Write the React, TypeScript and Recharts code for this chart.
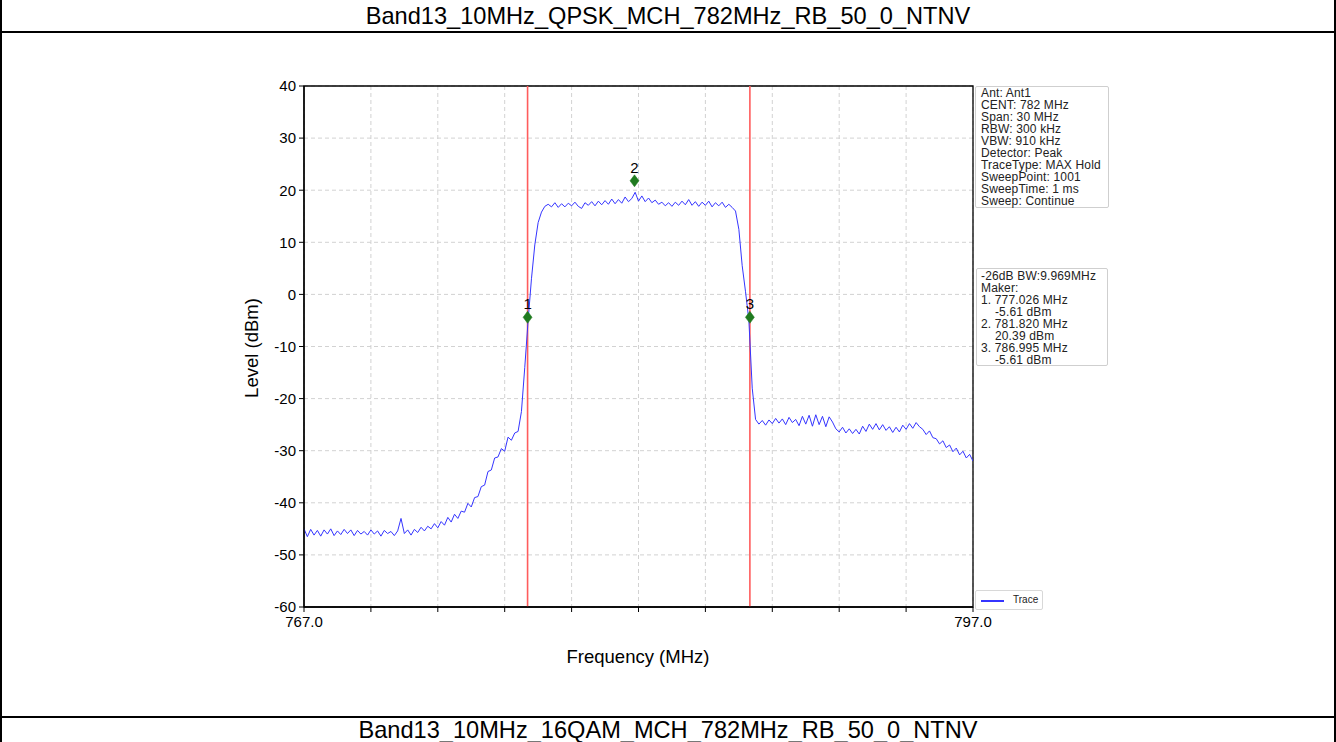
import React from 'react';
import {
  ComposedChart,
  Line,
  XAxis,
  YAxis,
  CartesianGrid,
  ReferenceLine,
  ReferenceDot,
  ReferenceArea,
} from 'recharts';

// ---- data ----
const TITLE_TOP = 'Band13_10MHz_QPSK_MCH_782MHz_RB_50_0_NTNV';
const TITLE_BOTTOM = 'Band13_10MHz_16QAM_MCH_782MHz_RB_50_0_NTNV';

const FREQ_START = 767.0;
const FREQ_STEP = 0.15;

// trace level (dBm), one value per sweep step of 0.15 MHz from 767.0 to 797.0
const traceLevels: number[] = [
  -45.0, -46.5, -45.1, -46.2, -45.3, -46.4, -45.2, -46.0, -45.0, -46.3,
  -45.4, -46.1, -45.1, -45.9, -45.2, -46.3, -45.3, -46.0, -45.5, -46.2,
  -45.2, -46.0, -45.4, -46.4, -45.3, -45.9, -45.5, -46.3, -45.4, -43.0,
  -45.9, -45.2, -46.2, -45.1, -45.7, -44.7, -45.4, -44.5, -45.0, -44.0,
  -44.8, -43.6, -44.3, -42.8, -43.7, -42.2, -43.0, -41.6, -41.8, -40.1,
  -40.8, -39.0, -38.8, -36.9, -36.6, -34.0, -33.7, -31.4, -31.2, -29.6,
  -30.1, -27.4, -28.0, -26.6, -26.3, -22.5, -14.0, -5.0, 3.0, 9.5,
  13.8, 15.8, 16.9, 17.3, 16.8, 17.6, 16.7, 17.4, 16.8, 17.5,
  17.0, 17.7, 16.9, 16.5, 17.6, 17.1, 17.8, 17.0, 17.9, 17.2,
  18.0, 17.3, 18.3, 17.4, 18.2, 17.5, 18.7, 17.8, 18.4, 19.6,
  17.9, 18.9, 17.8, 18.5, 17.6, 18.1, 17.3, 17.7, 17.0, 17.6,
  16.9, 17.7, 17.1, 17.9, 17.2, 18.2, 17.1, 17.8, 16.9, 17.7,
  17.1, 17.9, 16.8, 17.6, 17.0, 17.7, 16.7, 17.3, 16.7, 16.0,
  12.5, 5.5, 0.5, -5.0, -18.0, -24.0, -24.9, -24.2, -25.1, -24.1,
  -24.8, -23.8, -24.7, -23.9, -25.0, -23.6, -24.6, -24.0, -25.2, -23.4,
  -24.9, -23.2, -25.3, -23.1, -25.0, -23.4, -25.4, -23.5, -24.5, -25.8,
  -26.4, -25.5, -26.6, -25.8, -26.7, -25.9, -26.8, -25.3, -26.3, -24.9,
  -25.9, -24.8, -26.0, -25.0, -26.1, -25.4, -26.5, -25.5, -26.4, -25.1,
  -25.9, -24.8, -25.7, -24.6, -25.4, -25.9, -26.9, -26.2, -27.5, -27.7,
  -28.7, -28.1, -29.4, -28.9, -30.2, -29.5, -30.8, -30.1, -31.4, -30.7,
  -32.0,
];

const markerNames = ['1', '2', '3'];
const markerFreqs = [777.026, 781.82, 786.995];
const markerLevels = [-4.4, 21.8, -4.4];

const xTicks = [767, 770, 773, 776, 779, 782, 785, 788, 791, 794, 797];
const xTickLabels: Record<number, string> = { 767: '767.0', 797: '797.0' };
const yTicks = [-60, -50, -40, -30, -20, -10, 0, 10, 20, 30, 40];

const infoLines = [
  'Ant: Ant1',
  'CENT: 782 MHz',
  'Span: 30 MHz',
  'RBW: 300 kHz',
  'VBW: 910 kHz',
  'Detector: Peak',
  'TraceType: MAX Hold',
  'SweepPoint: 1001',
  'SweepTime: 1 ms',
  'Sweep: Continue',
];

const markerLines = [
  '-26dB BW:9.969MHz',
  'Maker:',
  '1. 777.026 MHz',
  '    -5.61 dBm',
  '2. 781.820 MHz',
  '    20.39 dBm',
  '3. 786.995 MHz',
  '    -5.61 dBm',
];

const chartData = traceLevels.map((v, i) => ({
  f: Math.round((FREQ_START + i * FREQ_STEP) * 1000) / 1000,
  level: v,
}));

const FONT = '"Liberation Sans", Arial, sans-serif';

const Diamond = (p: any) => {
  const { cx, cy } = p;
  if (cx == null || cy == null) return null;
  return (
    <polygon
      points={`${cx},${cy - 6} ${cx + 4.5},${cy} ${cx},${cy + 6} ${cx - 4.5},${cy}`}
      fill="#1f7a1f"
      stroke="#1f7a1f"
      strokeWidth={0.5}
    />
  );
};

export default function App() {
  return (
    <div
      style={{
        position: 'absolute',
        left: 0,
        top: 0,
        width: 1336,
        height: 742,
        background: '#fff',
        overflow: 'hidden',
        fontFamily: FONT,
      }}
    >
      {/* table borders */}
      <div style={{ position: 'absolute', left: 0, top: 0, width: 2, height: 742, background: '#000' }} />
      <div style={{ position: 'absolute', left: 1334, top: 0, width: 2, height: 742, background: '#000' }} />
      <div style={{ position: 'absolute', left: 0, top: 31, width: 1336, height: 2, background: '#000' }} />
      <div style={{ position: 'absolute', left: 0, top: 716, width: 1336, height: 2, background: '#000' }} />

      <div
        style={{
          position: 'absolute',
          left: 0,
          top: 2,
          width: 1336,
          textAlign: 'center',
          fontSize: 23.6,
          lineHeight: '28px',
          color: '#000',
        }}
      >
        {TITLE_TOP}
      </div>
      <div
        style={{
          position: 'absolute',
          left: 0,
          top: 717,
          width: 1336,
          textAlign: 'center',
          fontSize: 23.6,
          lineHeight: '26px',
          color: '#000',
        }}
      >
        {TITLE_BOTTOM}
      </div>

      <div style={{ position: 'absolute', left: 0, top: 0 }}>
        <ComposedChart
          width={1336}
          height={742}
          data={chartData}
          margin={{ top: 86, left: 264, right: 363, bottom: 105 }}
        >
          <CartesianGrid stroke="#d2d2d2" strokeDasharray="4 3" />
          <XAxis
            dataKey="f"
            type="number"
            domain={[767, 797]}
            ticks={xTicks}
            tickFormatter={(v: number) => xTickLabels[v] ?? ''}
            interval={0}
            height={30}
            tick={{ fontSize: 15, fill: '#000', fontFamily: FONT }}
            tickSize={5}
            tickMargin={4}
            axisLine={{ stroke: '#000', strokeWidth: 1.3 }}
            tickLine={{ stroke: '#000', strokeWidth: 1 }}
            allowDataOverflow
          />
          <YAxis
            type="number"
            domain={[-60, 40]}
            ticks={yTicks}
            interval={0}
            width={40}
            tick={{ fontSize: 15, fill: '#000', fontFamily: FONT }}
            tickSize={5}
            tickMargin={3}
            axisLine={{ stroke: '#000', strokeWidth: 1.3 }}
            tickLine={{ stroke: '#000', strokeWidth: 1 }}
            allowDataOverflow
          />
          <ReferenceArea
            x1={767}
            x2={797}
            y1={-60}
            y2={40}
            fill="none"
            fillOpacity={0}
            stroke="#000"
            strokeWidth={1.3}
            ifOverflow="visible"
          />
          <ReferenceLine x={markerFreqs[0]} stroke="#ff5c5c" strokeWidth={1.6} />
          <ReferenceLine x={markerFreqs[2]} stroke="#ff5c5c" strokeWidth={1.6} />
          <Line
            type="linear"
            dataKey="level"
            stroke="#3535ff"
            strokeWidth={1}
            dot={false}
            isAnimationActive={false}
          />
          {markerFreqs.map((f, i) => (
            <ReferenceDot
              key={markerNames[i]}
              x={f}
              y={markerLevels[i]}
              r={6}
              shape={Diamond}
              label={{ value: markerNames[i], position: 'top', offset: 2, fontSize: 15, fill: '#000', fontFamily: FONT }}
              ifOverflow="visible"
            />
          ))}
        </ComposedChart>
      </div>

      {/* axis titles */}
      <div
        style={{
          position: 'absolute',
          left: 252 - 80,
          top: 348 - 12,
          width: 160,
          height: 24,
          lineHeight: '24px',
          textAlign: 'center',
          fontSize: 18.5,
          transform: 'rotate(-90deg)',
          color: '#000',
        }}
      >
        Level (dBm)
      </div>
      <div
        style={{
          position: 'absolute',
          left: 638 - 120,
          top: 657 - 12,
          width: 240,
          height: 24,
          lineHeight: '24px',
          textAlign: 'center',
          fontSize: 18.5,
          color: '#000',
        }}
      >
        Frequency (MHz)
      </div>

      {/* info boxes */}
      <div
        style={{
          position: 'absolute',
          left: 975,
          top: 86,
          width: 134,
          height: 122,
          border: '1px solid #cfcfcf',
          borderRadius: 2,
          background: 'rgba(255,255,255,0.85)',
          boxSizing: 'border-box',
          padding: '0 0 0 5px',
          fontSize: 12,
          lineHeight: '12px',
          letterSpacing: 0.15,
          color: '#222',
          whiteSpace: 'pre',
        }}
      >
        {infoLines.map((t) => (
          <div key={t} style={{ height: 12 }}>{t}</div>
        ))}
      </div>
      <div
        style={{
          position: 'absolute',
          left: 976,
          top: 268,
          width: 132,
          height: 98,
          border: '1px solid #cfcfcf',
          borderRadius: 2,
          background: 'rgba(255,255,255,0.85)',
          boxSizing: 'border-box',
          padding: '1px 0 0 4px',
          fontSize: 12,
          lineHeight: '12px',
          letterSpacing: 0.15,
          color: '#222',
          whiteSpace: 'pre',
        }}
      >
        {markerLines.map((t, i) => (
          <div key={i} style={{ height: 12 }}>{t}</div>
        ))}
      </div>

      {/* legend */}
      <div
        style={{
          position: 'absolute',
          left: 975,
          top: 590,
          width: 68,
          height: 20,
          border: '1px solid #d8d8d8',
          borderRadius: 2,
          background: '#fff',
          boxSizing: 'border-box',
        }}
      >
        <div style={{ position: 'absolute', left: 5, top: 9, width: 23, height: 1.5, background: '#3535ff' }} />
        <div
          style={{
            position: 'absolute',
            left: 37,
            top: 3,
            fontSize: 10,
            lineHeight: '12px',
            color: '#222',
          }}
        >
          Trace
        </div>
      </div>
    </div>
  );
}
